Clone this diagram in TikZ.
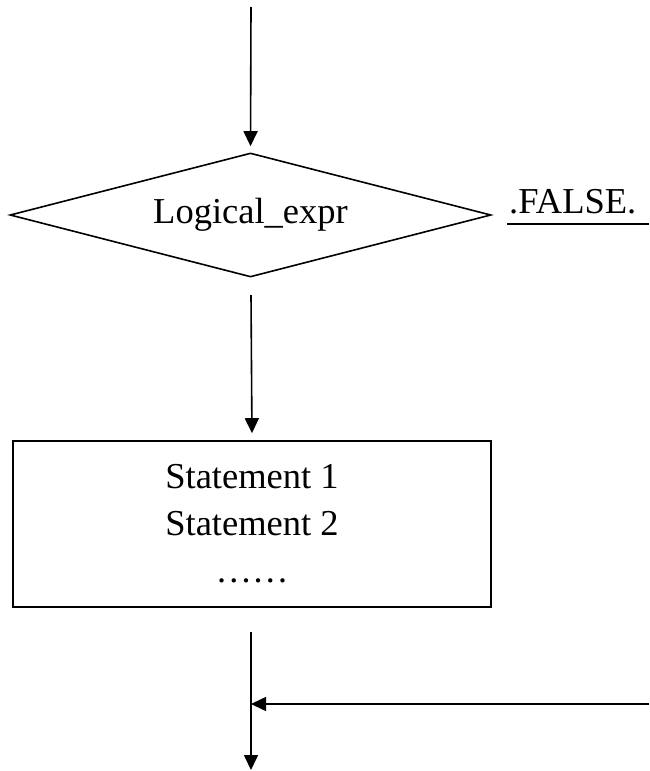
\documentclass[tikz,border=0pt]{standalone}
\usepackage{fontspec}
\setmainfont{Liberation Serif}
\usetikzlibrary{shapes.geometric,arrows.meta}
\begin{document}
\begin{tikzpicture}[x=1pt,y=-1pt,
  line/.style={line width=1.6pt,line cap=butt},
  arr/.style={line,-{Triangle[length=15pt,width=14pt]}},
  txt/.style={font=\fontsize{36.5}{47}\selectfont},
  decision/.style={diamond,draw,line width=1.6pt,aspect=3.88,minimum width=481pt,minimum height=124pt,inner sep=0pt,txt},
  block/.style={rectangle,draw,line width=1.6pt,minimum width=478pt,minimum height=166pt,inner sep=0pt,align=center,txt}]
\useasboundingbox (0,0) rectangle (649,771);
% nodes
\node[decision] (d) at (250.5,215) {\raisebox{-3pt}{Logical\_expr}};
\node[txt,anchor=base west,inner sep=0pt] (f) at (509,213) {.FALSE.};
\node[block] (r) at (252,524) {Statement 1\\Statement 2\\……};
% free ends
\coordinate (t0) at (251,7);
\coordinate (m0) at (251,295);
\coordinate (u0) at (507,224);
\coordinate (u1) at (649,224);
\coordinate (b0) at (251,632);
\coordinate (b1) at (251,770);
\coordinate (h0) at (649,704);
\coordinate (hj) at (251,704);
% connectors
\draw[arr,shorten >=6pt] (t0) -- (d.north);
\draw[line] (u0) -- (u1);
\draw[arr,shorten >=7pt] (m0) -- (r.north);
\draw[arr] (b0) -- (b1);
\draw[arr] (h0) -- (hj);
\end{tikzpicture}
\end{document}
